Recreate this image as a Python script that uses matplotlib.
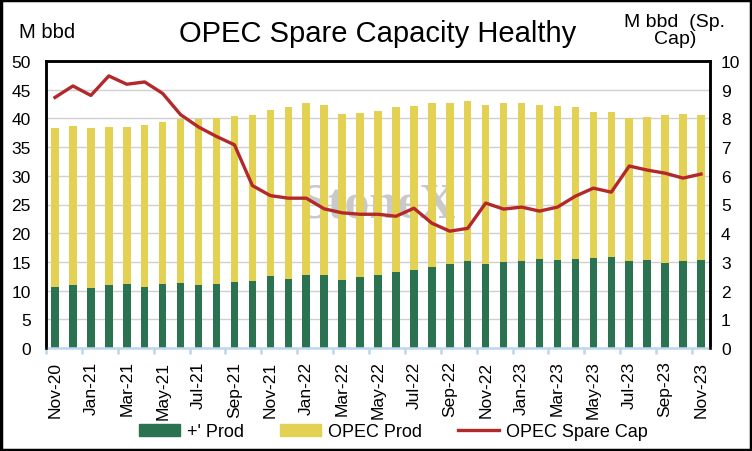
import matplotlib
matplotlib.use("Agg")
import matplotlib.pyplot as plt
from matplotlib.patches import Rectangle
from matplotlib.lines import Line2D
from matplotlib.patches import Patch
import numpy as np

months = ["Nov-20", "Dec-20", "Jan-21", "Feb-21", "Mar-21", "Apr-21", "May-21", "Jun-21",
          "Jul-21", "Aug-21", "Sep-21", "Oct-21", "Nov-21", "Dec-21", "Jan-22", "Feb-22",
          "Mar-22", "Apr-22", "May-22", "Jun-22", "Jul-22", "Aug-22", "Sep-22", "Oct-22",
          "Nov-22", "Dec-22", "Jan-23", "Feb-23", "Mar-23", "Apr-23", "May-23", "Jun-23",
          "Jul-23", "Aug-23", "Sep-23", "Oct-23", "Nov-23"]

plus_prod = [10.6, 11.0, 10.5, 11.0, 11.2, 10.6, 11.2, 11.3, 11.0, 11.2, 11.5, 11.7,
             12.6, 12.0, 12.7, 12.7, 11.9, 12.4, 12.7, 13.3, 13.6, 14.1, 14.65, 15.2,
             14.65, 15.0, 15.2, 15.5, 15.35, 15.5, 15.7, 15.9, 15.2, 15.35, 14.8, 15.2, 15.35]

total_prod = [38.4, 38.7, 38.4, 38.5, 38.5, 38.9, 39.4, 39.9, 39.9, 40.1, 40.5, 40.6,
              41.5, 41.9, 42.6, 42.4, 40.8, 41.0, 41.3, 41.9, 42.2, 42.6, 42.6, 43.1,
              42.4, 42.6, 42.6, 42.4, 42.2, 41.9, 41.2, 41.2, 40.1, 40.3, 40.6, 40.8, 40.6]

opec_prod = [round(t - p, 2) for t, p in zip(total_prod, plus_prod)]

spare_cap = [8.73, 9.13, 8.80, 9.48, 9.19, 9.27, 8.87, 8.13, 7.70, 7.37, 7.08, 5.66,
             5.31, 5.22, 5.22, 4.85, 4.71, 4.66, 4.66, 4.59, 4.87, 4.35, 4.07, 4.17,
             5.05, 4.84, 4.91, 4.77, 4.91, 5.29, 5.57, 5.43, 6.34, 6.20, 6.09, 5.92, 6.06]

GREEN = "#2A7250"
YELLOW = "#E2D152"
RED = "#B3282A"
AXBLUE = "#BDD7EE"
FONT = "Liberation Sans"

plt.rcParams["font.family"] = [FONT, "DejaVu Sans"]

fig = plt.figure(figsize=(7.52, 4.52), dpi=100)
fig.patches.append(Rectangle((0.0015, 0.0025), 0.997, 0.995, transform=fig.transFigure,
                             fill=False, edgecolor="black", linewidth=2.5, zorder=10))

ax = fig.add_axes([46 / 752, 1 - 349 / 452, 664 / 752, 287 / 452])
x = np.arange(len(months))

ax.text(18, 25.0, "StoneX", fontsize=36, fontweight="bold", family="Liberation Serif",
        color="#C9C9C9", ha="center", va="center", zorder=1)
ax.bar(x, plus_prod, width=0.42, color=GREEN, zorder=2, label="+' Prod")
ax.bar(x, opec_prod, bottom=plus_prod, width=0.42, color=YELLOW, zorder=2, label="OPEC Prod")

ax.set_ylim(0, 50)
ax.set_yticks(np.arange(0, 51, 5))
ax.set_xlim(-0.5, len(months) - 0.5)
ax.yaxis.grid(True, color="#D0D0D0", linewidth=1, zorder=0)
ax.set_axisbelow(True)
ax.tick_params(axis="y", length=0, labelsize=12.5, pad=11)
ax.set_xticks(x[::2])
ax.set_xticklabels(months[::2], rotation=90, fontsize=12.5)
ax.set_xticks(np.arange(-0.5, len(months), 2), minor=True)
ax.tick_params(axis="x", which="major", length=0, pad=9)
ax.tick_params(axis="x", which="minor", length=4, color=AXBLUE, width=1.8)
for s in ["left", "top", "right"]:
    ax.spines[s].set_linewidth(1.8)
    ax.spines[s].set_color("black")
ax.spines["bottom"].set_color(AXBLUE)
ax.spines["bottom"].set_linewidth(1.8)

ax2 = ax.twinx()
ax2.plot(x, spare_cap, color=RED, linewidth=2.4, zorder=5)
ax2.set_ylim(0, 10)
ax2.set_yticks(np.arange(0, 11, 1))
ax2.tick_params(axis="y", length=0, labelsize=12.5, pad=8)
for s in ["left", "top", "right"]:
    ax2.spines[s].set_linewidth(1.8)
    ax2.spines[s].set_color("black")
ax2.spines["bottom"].set_visible(False)

fig.text(378 / 752, 1 - 34 / 452, "OPEC Spare Capacity Healthy", fontsize=21,
         ha="center", va="center")
fig.text(19 / 752, 1 - 33 / 452, "M bbd", fontsize=14.5, ha="left", va="center")
fig.text(675 / 752, 1 - 31 / 452, "M bbd  (Sp.\nCap)", fontsize=14, ha="center",
         va="center", linespacing=1.0)

handles = [Patch(color=GREEN, label="+' Prod"),
           Patch(color=YELLOW, label="OPEC Prod"),
           Line2D([0], [0], color=RED, linewidth=2.4, label="OPEC Spare Cap")]
fig.legend(handles=handles, loc="center", bbox_to_anchor=(393 / 752, 1 - 433 / 452),
           ncol=3, frameon=False, fontsize=13, handlelength=2.3, handleheight=0.6,
           columnspacing=2.0, handletextpad=0.35)

fig.savefig("out.png", dpi=100)
